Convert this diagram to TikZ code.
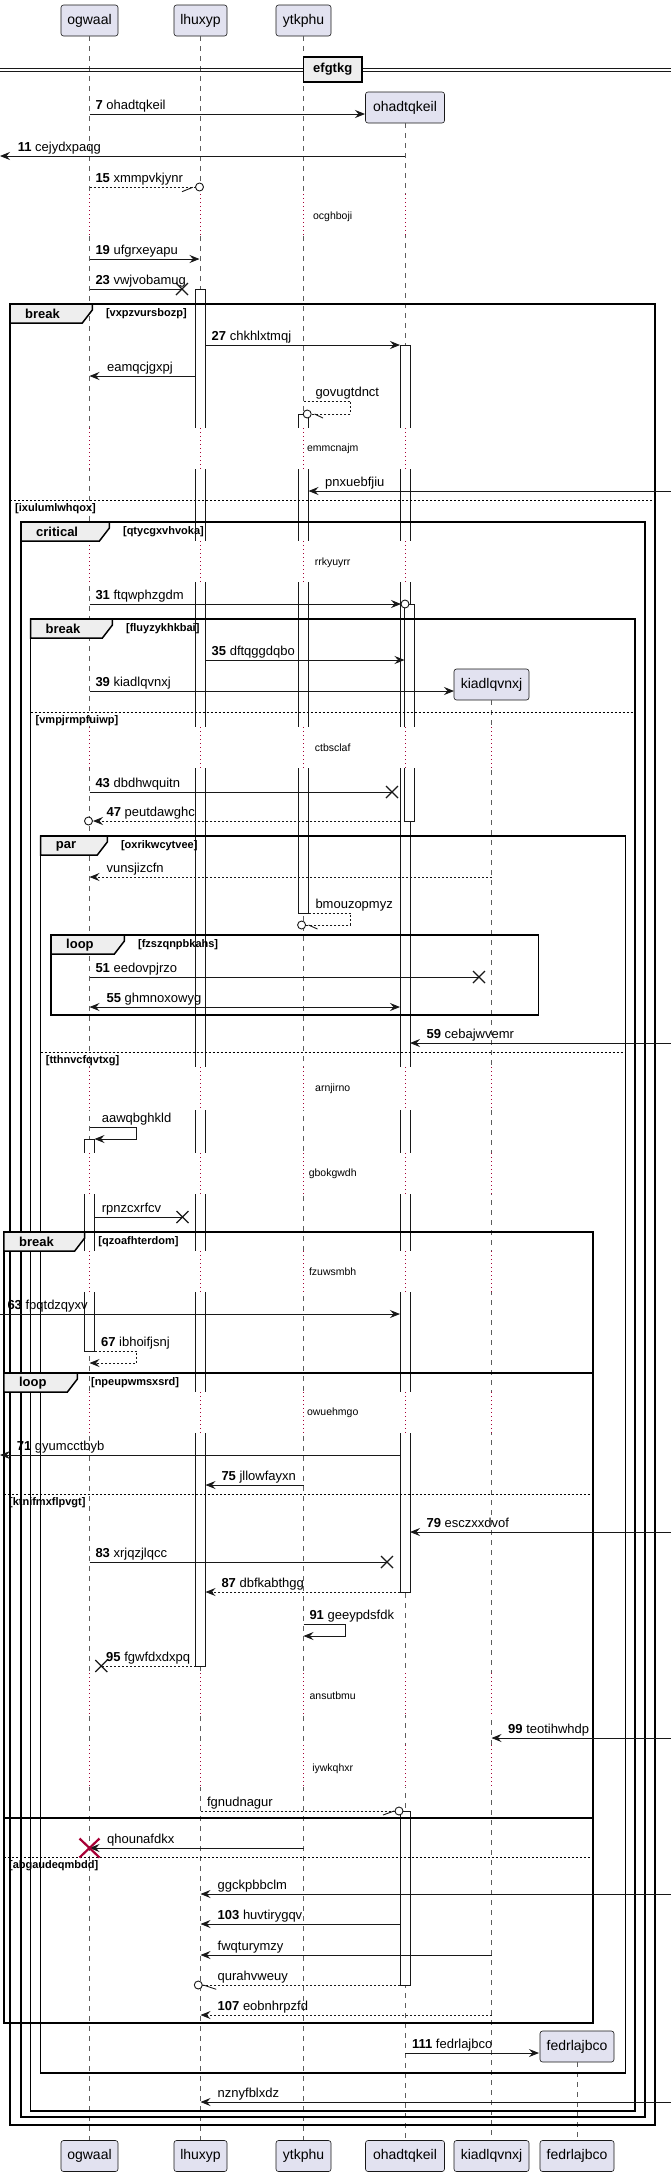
\documentclass[tikz,border=0pt]{standalone}
\usepackage{fontspec}
\setmainfont{Liberation Sans}
\usetikzlibrary{arrows.meta,positioning,calc}
\definecolor{partclr}{RGB}{226, 226, 240}
\definecolor{inkclr}{RGB}{24, 24, 24}
\definecolor{tabclr}{RGB}{238, 238, 238}
\definecolor{delayclr}{RGB}{168, 0, 54}
\tikzset{
  partbox/.style = {draw=inkclr, fill=partclr, rounded corners=2.5pt,
                    line width=0.6pt, minimum height=31pt, inner sep=0pt,
                    font=\fontsize{14}{16}\selectfont},
  lifeln/.style  = {inkclr!70, line width=0.7pt, dash pattern=on 5pt off 5pt},
  delayln/.style = {delayclr, line width=0.9pt, dash pattern=on 1pt off 3pt},
  actbar/.style  = {draw=inkclr, fill=white, line width=0.8pt},
  msg/.style     = {inkclr, line width=0.9pt,
                    -{Stealth[length=10pt, width=8pt, inset=3.5pt]}},
  dmsg/.style    = {msg, dash pattern=on 2pt off 2pt},
  bimsg/.style   = {msg, {Stealth[length=10pt, width=8pt, inset=3.5pt]}-{Stealth[length=10pt, width=8pt, inset=3.5pt]}},
  bare/.style    = {inkclr, line width=0.9pt},
  dbare/.style   = {bare, dash pattern=on 2pt off 2pt},
  lbl/.style     = {anchor=base west, inner sep=0pt, font=\fontsize{13}{15}\selectfont},
  dtxt/.style    = {inner sep=0pt, font=\fontsize{10.5}{12}\selectfont},
  frm/.style     = {draw=black, line width=1.5pt},
  grptab/.style  = {draw=black, fill=tabclr, line width=1.5pt},
  tabtxt/.style  = {anchor=west, inner sep=0pt, font=\fontsize{13}{15}\selectfont\bfseries},
  grdtxt/.style  = {anchor=west, inner sep=0pt, font=\fontsize{11}{13}\selectfont\bfseries},
  elseln/.style  = {black, line width=0.8pt, dash pattern=on 2pt off 2pt},
  killx/.style   = {inkclr, line width=1.3pt},
  endo/.style    = {draw=inkclr, fill=white, line width=0.9pt},
}
% group frame: name, x0, y0, x1, y1, tab right, kind, guard
\newcommand{\grpframe}[8]{%
  \draw[frm] (#2,#3) rectangle (#4,#5);
  \draw[grptab] (#2,#3) -- (#6,#3) -- (#6,#3+6) -- (#6-10,#3+19) -- (#2,#3+19) -- cycle;
  \node[tabtxt] (#1-kind) at (#2+15,#3+10) {#7};
  \node[grdtxt] (#1-guard) at (#6+13.5,#3+10) {[#8]};
}
% else line: name, x0, x1, y, guard
\newcommand{\grpelse}[5]{%
  \draw[elseln] (#2,#4) -- (#3,#4);
  \node[grdtxt] (#1) at (#2+5,#4+9) {[#5]};
}
\newcommand{\killmark}[2]{%
  \draw[killx] (#1-6,#2-6) -- (#1+6,#2+6) (#1-6,#2+6) -- (#1+6,#2-6);
}

\begin{document}
\begin{tikzpicture}[x=1pt, y=-1pt]
    \useasboundingbox (0,0) rectangle (671,2177);

    % -- Participants ----------------------------------------------
    \foreach \nm/\x/\w/\txt in {og/89.5/57/ogwaal, lh/200.5/53/lhuxyp, yt/303.5/55/ytkphu}{
        \node[partbox, minimum width=\w pt] (\nm-top) at (\x,20.5) {\txt};
    }
    \node[partbox, minimum width=79pt] (oh-top) at (405,107.5) {ohadtqkeil};
    \node[partbox, minimum width=75pt] (ki-top) at (491.5,684.5) {kiadlqvnxj};
    \node[partbox, minimum width=74pt] (fe-top) at (577,2046.5) {fedrlajbco};
    \foreach \nm/\x/\w/\txt in {og/89.5/57/ogwaal, lh/200.5/53/lhuxyp, yt/303.5/55/ytkphu,
                                oh/405/79/ohadtqkeil, ki/491.5/75/kiadlqvnxj, fe/577/74/fedrlajbco}{
        \node[partbox, minimum width=\w pt] (\nm-bot) at (\x,2156) {\txt};
        \draw[lifeln] (\nm-top) -- (\nm-bot);
    }

    % -- Activations -----------------------------------------------
    \draw[actbar] (195.5,289) rectangle (205.5,1666);
    \draw[actbar] (400,345) rectangle (410,1592);
    \draw[actbar] (404.5,604) rectangle (414.5,821);
    \draw[actbar] (298.5,414) rectangle (308.5,913);
    \draw[actbar] (84.5,1139) rectangle (94.5,1351);
    \draw[actbar] (400,1811) rectangle (410,1985);

    % -- Delays ----------------------------------------------------
    \foreach \ys/\ye in {194/235, 428/469, 541/582, 727/768, 1067/1110, 1153/1194,
                         1251/1292, 1392/1433, 1673/1715, 1745/1787}{
        \foreach \x in {89.5, 200.5, 303.5}{
            \fill[white] (\x-7,\ys) rectangle (\x+7,\ye);
            \draw[delayln] (\x,\ys) -- (\x,\ye);
        }
        \fill[white] (397,\ys) rectangle (418,\ye);
        \draw[delayln] (405,\ys) -- (405,\ye);
    }
    \foreach \ys/\ye in {727/768, 1067/1110, 1153/1194, 1251/1292, 1392/1433, 1673/1715, 1745/1787}{
        \fill[white] (484.5,\ys) rectangle (498.5,\ye);
        \draw[delayln] (491.5,\ys) -- (491.5,\ye);
    }
    \foreach \ty/\txt in {217/ocghboji, 449/emmcnajm, 563/rrkyuyrr, 748/ctbsclaf, 1089/arnjirno,
                          1174/gbokgwdh, 1272/fzuwsmbh, 1413/owuehmgo, 1696/ansutbmu, 1769/iywkqhxr}{
        \node[dtxt] (d\ty) at (332.7,\ty) {\txt};
    }

    % -- Divider ---------------------------------------------------
    \draw[inkclr, line width=0.9pt] (0,68.3) -- (671,68.3) (0,71.3) -- (671,71.3);
    \node[draw=black, line width=1.8pt, fill=tabclr, minimum width=58.5pt, minimum height=25pt,
          inner sep=0pt, font=\fontsize{13}{15}\selectfont\bfseries] (efgtkg) at (332.7,69.5) {efgtkg};

    % -- Groups ----------------------------------------------------
    \grpframe{brk1}{10}{304}{655}{2125}{92.3}{break}{vxpzvursbozp}
    \grpelse{brk1-else}{10}{655}{500}{ixulumlwhqox}
    \grpframe{crit}{21}{522}{645}{2117}{109.4}{critical}{qtycgxvhvoka}
    \grpframe{brk2}{30.5}{619}{635}{2111}{112.4}{break}{fluyzykhkbai}
    \grpelse{brk2-else}{30.5}{635}{712}{vmpjrmpfuiwp}
    \grpframe{par1}{40.7}{836}{625.7}{2073}{107.3}{par}{oxrikwcytvee}
    \grpelse{par1-else}{40.7}{625.7}{1052}{tthnvcfqvtxg}
    \grpframe{loop1}{51}{935}{538.7}{1015}{124.4}{loop}{fzszqnpbkahs}
    \grpframe{brk3}{3.9}{1232}{593}{2023}{84.7}{break}{qzoafhterdom}
    \grpelse{brk3-else}{3.9}{593}{1857}{abgaudeqmbdd}
    \grpframe{loop2}{3.9}{1373}{593}{1818}{77.4}{loop}{npeupwmsxsrd}
    \grpelse{loop2-else}{3.9}{593}{1494}{ktnifmxflpvgt}

    % -- Messages --------------------------------------------------
    \foreach \ya/\xa/\xb/\lx/\txt in {
        114/89.5/365/95.3/\textbf{7} ohadtqkeil,
        156/405/0/17.6/\textbf{11} cejydxpaqg,
        259/89.5/199.5/95.3/\textbf{19} ufgrxeyapu,
        345/205.5/400/211.5/\textbf{27} chkhlxtmqj,
        376/195.5/89.5/106.9/eamqcjgxpj,
        491/671/308.5/325/pnxuebfjiu,
        660/205.5/404.5/211.5/\textbf{35} dftqggdqbo,
        691/89.5/454/95.3/\textbf{39} kiadlqvnxj,
        1043/671/410/426.4/\textbf{59} cebajwvemr,
        1314/0/400/7.3/\textbf{63} fpqtdzqyxv,
        1455/400/0/16.7/\textbf{71} gyumcctbyb,
        1485/303.5/205.5/221.3/\textbf{75} jllowfayxn,
        1532/671/410/426.4/\textbf{79} esczxxdvof,
        1738/671/491.5/508/\textbf{99} teotihwhdp,
        1848/303.5/89.5/106.9/qhounafdkx,
        1894/671/200.5/217.5/ggckpbbclm,
        1924/400/200.5/217.5/\textbf{103} huvtirygqv,
        1955/491.5/200.5/217.5/fwqturymzy,
        2053/405/539/411.9/\textbf{111} fedrlajbco,
        2102/671/200.5/217.5/nznyfblxdz}{
        \draw[msg] (\xa,\ya) -- (\xb,\ya);
        \node[lbl] (m\ya) at (\lx,\ya-5) {\txt};
    }
    \foreach \ya/\xa/\xb/\lx/\txt in {
        877/491.5/89.5/106.4/vunsjizcfn,
        1592/400/205.5/221.3/\textbf{87} dbfkabthgg,
        2015/491.5/200.5/217.5/\textbf{107} eobnhrpzfd}{
        \draw[dmsg] (\xa,\ya) -- (\xb,\ya);
        \node[lbl] (m\ya) at (\lx,\ya-5) {\txt};
    }
    \draw[bimsg] (89.5,1007) -- (400,1007);
    \node[lbl] (m1007) at (106.4,1002) {\textbf{55} ghmnoxowyg};

    % -- Lost messages (X) -----------------------------------------
    \foreach \ya/\xa/\xb/\lx/\sty/\txt in {
        289/89.5/182/95.3/bare/\textbf{23} vwjvobamug,
        792/89.5/392/95.3/bare/\textbf{43} dbdhwquitn,
        977/89.5/479/95.3/bare/\textbf{51} eedovpjrzo,
        1217/94.5/182.5/101.7/bare/rpnzcxrfcv,
        1562/89.5/387/95.3/bare/\textbf{83} xrjqzjlqcc,
        1666/195.5/101.3/106/dbare/\textbf{95} fgwfdxdxpq}{
        \draw[\sty] (\xa,\ya) -- (\xb,\ya);
        \killmark{\xb}{\ya}
        \node[lbl] (m\ya) at (\lx,\ya-5) {\txt};
    }

    % -- Circle ends -----------------------------------------------
    \draw[dbare] (89.5,187) -- (195.5,187);
    \draw[bare] (182,191.7) -- (192.7,187.3);
    \draw[endo] (199.5,187) circle[radius=4pt];
    \node[lbl] (m187) at (95.3,182) {\textbf{15} xmmpvkjynr};

    \draw[msg] (89.5,604) -- (401,604);
    \draw[endo] (405,604) circle[radius=4pt];
    \node[lbl] (m604) at (95.3,599) {\textbf{31} ftqwphzgdm};

    \draw[dmsg] (400,821) -- (93,821);
    \draw[endo] (88.5,821) circle[radius=4pt];
    \node[lbl] (m821) at (106.4,816) {\textbf{47} peutdawghc};

    \draw[dbare] (200.5,1811) -- (395,1811);
    \draw[bare] (383,1815) -- (394,1811);
    \draw[endo] (399,1811) circle[radius=4pt];
    \node[lbl] (m1811) at (206.8,1806) {fgnudnagur};

    \draw[dbare] (400,1985) -- (202.3,1985);
    \draw[bare] (203.4,1985) -- (216.2,1989.3);
    \draw[endo] (198.3,1985) circle[radius=4pt];
    \node[lbl] (m1985) at (217.5,1980) {qurahvweuy};

    % -- Self messages ---------------------------------------------
    \draw[dbare] (303.5,401) -- (350.4,401) -- (350.4,414) -- (311.2,414);
    \draw[endo] (307.2,414) circle[radius=4pt];
    \draw[bare] (314.5,414) -- (323,418);
    \node[lbl] (m401) at (315.3,396) {govugtdnct};

    \draw[dbare] (308.5,913) -- (350.4,913) -- (350.4,925) -- (305.6,925);
    \draw[endo] (301.6,925) circle[radius=4pt];
    \draw[bare] (308.5,925) -- (317.5,929);
    \node[lbl] (m913) at (315.3,908) {bmouzopmyz};

    \draw[msg] (89.5,1127) -- (136.8,1127) -- (136.8,1139) -- (94.5,1139);
    \node[lbl] (m1127) at (101.7,1122) {aawqbghkld};

    \draw[dmsg] (94.5,1351) -- (136.8,1351) -- (136.8,1363) -- (89.5,1363);
    \node[lbl] (m1351) at (100.9,1346) {\textbf{67} ibhoifjsnj};

    \draw[msg] (303.5,1624) -- (345.2,1624) -- (345.2,1636) -- (303.5,1636);
    \node[lbl] (m1624) at (309.3,1619) {\textbf{91} geeypdsfdk};

    % -- Destroy ---------------------------------------------------
    \draw[delayclr, line width=2.2pt] (79.5,1838.5) -- (99.5,1857.5) (79.5,1857.5) -- (99.5,1838.5);
\end{tikzpicture}
\end{document}
